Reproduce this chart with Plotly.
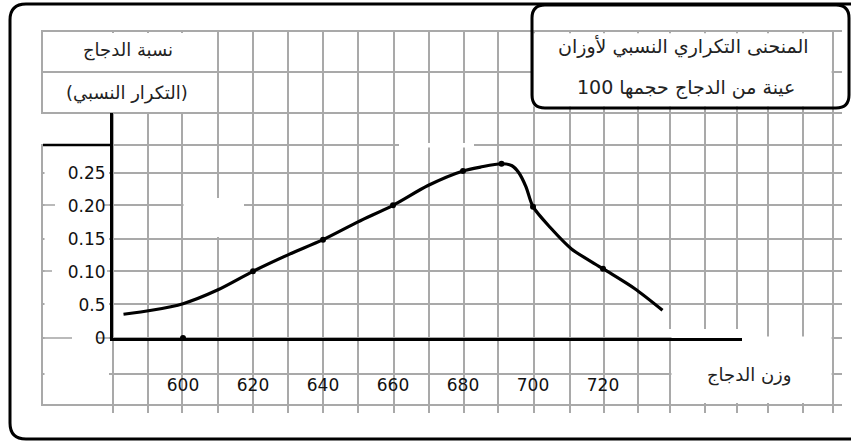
import plotly.graph_objects as go

# ---------------- data ----------------
CURVE_X = [583, 591, 600, 610, 620, 630, 640, 650, 660, 670, 680, 685, 691, 694,
           696, 698, 700, 705, 711, 720, 729, 737]
CURVE_Y = [0.036, 0.042, 0.052, 0.073, 0.101, 0.126, 0.149, 0.176, 0.201, 0.231,
           0.253, 0.259, 0.264, 0.261, 0.250, 0.229, 0.199, 0.167, 0.135, 0.105,
           0.075, 0.042]
DOT_X = [600, 620, 640, 660, 680, 691, 700, 720]
DOT_Y = [0.0, 0.101, 0.149, 0.201, 0.253, 0.264, 0.199, 0.105]

X_TICKS = [600, 620, 640, 660, 680, 700, 720]
X_TICK_TEXT = ["600", "620", "640", "660", "680", "700", "720"]
Y_TICKS = [0, 0.05, 0.10, 0.15, 0.20, 0.25]
Y_TICK_TEXT = ["0", "0.5", "0.10", "0.15", "0.20", "0.25"]

Y_TITLE_1 = "نسبة الدجاج"
Y_TITLE_2 = "(التكرار النسبي)"
X_TITLE = "وزن الدجاج"
TITLE_1 = "المنحنى التكراري النسبي لأوزان"
TITLE_2 = "عينة من الدجاج حجمها 100"

# ---------------- layout geometry (pixels) ----------------
W, H = 851, 442
GL, GR, GT, GB = 43, 842, 32, 404          # grid box
X_ORIGIN_PX, Y_ORIGIN_PX = 113, 338        # axes origin
X_AXIS_END_PX, Y_AXIS_TOP_PX = 742, 113
PX_PER_X = 3.5                             # pixels per weight unit
PX_PER_Y = 660.0                           # pixels per frequency unit
X0 = 580                                   # weight at the origin

GRID_COLS_PX = [113, 148, 182, 218, 253, 288, 323, 358, 394, 429, 464, 498, 534,
                570, 604, 638, 670, 705, 737, 768, 803, 833]
GRID_ROWS_PX = [72, 113, 145, 173, 205, 239, 271, 304, 338, 374]

GRID_COLOR = "#a9a9a9"
FONT = "DejaVu Sans"


def dx(px):
    return X0 + (px - X_ORIGIN_PX) / PX_PER_X


def dy(py):
    return (Y_ORIGIN_PX - py) / PX_PER_Y


def fx(px):
    return (px - GL) / (GR - GL)


def fy(py):
    return (GB - py) / (GB - GT)


def rrect(l, t, r, b, rad):
    X, Y = fx, fy
    return (f"M {X(l+rad)},{Y(t)} L {X(r-rad)},{Y(t)} Q {X(r)},{Y(t)} {X(r)},{Y(t+rad)} "
            f"L {X(r)},{Y(b-rad)} Q {X(r)},{Y(b)} {X(r-rad)},{Y(b)} "
            f"L {X(l+rad)},{Y(b)} Q {X(l)},{Y(b)} {X(l)},{Y(b-rad)} "
            f"L {X(l)},{Y(t+rad)} Q {X(l)},{Y(t)} {X(l+rad)},{Y(t)} Z")


def left_arc(l, t, b, rad):
    # left side of the outer frame with its two rounded corners
    X, Y = fx, fy
    return (f"M {X(l+rad)},{Y(t)} Q {X(l)},{Y(t)} {X(l)},{Y(t+rad)} "
            f"L {X(l)},{Y(b-rad)} Q {X(l)},{Y(b)} {X(l+rad)},{Y(b)}")


fig = go.Figure()

fig.add_trace(go.Scatter(
    x=CURVE_X, y=CURVE_Y, xaxis="x2", yaxis="y2", mode="lines",
    line=dict(color="black", width=3.2, shape="spline", smoothing=0.8),
    hoverinfo="skip", showlegend=False))
fig.add_trace(go.Scatter(
    x=DOT_X, y=DOT_Y, xaxis="x2", yaxis="y2", mode="markers",
    marker=dict(color="black", size=6), cliponaxis=False,
    hoverinfo="skip", showlegend=False))

x2_dom = [fx(X_ORIGIN_PX), fx(X_AXIS_END_PX)]
y2_dom = [fy(Y_ORIGIN_PX), fy(Y_AXIS_TOP_PX)]

fig.update_layout(
    width=W, height=H,
    margin=dict(l=GL, r=W - GR, t=GT, b=H - GB),
    paper_bgcolor="white", plot_bgcolor="rgba(0,0,0,0)",
    showlegend=False,
    xaxis=dict(range=[dx(GL), dx(GR)], domain=[0, 1],
               tickvals=[dx(p) for p in GRID_COLS_PX], showticklabels=False,
               showgrid=True, gridcolor=GRID_COLOR, gridwidth=1.6,
               ticks="outside", ticklen=7, tickcolor=GRID_COLOR, tickwidth=1.6,
               showline=True, linecolor=GRID_COLOR, linewidth=1.6, mirror=True,
               zeroline=False, fixedrange=True),
    yaxis=dict(range=[dy(GB), dy(GT)], domain=[0, 1],
               tickvals=[dy(p) for p in GRID_ROWS_PX], showticklabels=False,
               showgrid=True, gridcolor=GRID_COLOR, gridwidth=1.6, ticks="",
               showline=True, linecolor=GRID_COLOR, linewidth=1.6, mirror=False,
               zeroline=False, fixedrange=True),
    xaxis2=dict(range=[X0, dx(X_AXIS_END_PX)], domain=x2_dom, anchor="y2",
                tickvals=X_TICKS, ticktext=X_TICK_TEXT, ticks="",
                ticklabelstandoff=30,
                tickfont=dict(family=FONT, size=17, color="#111"),
                showgrid=False, zeroline=False, showline=True,
                linecolor="black", linewidth=3, fixedrange=True),
    yaxis2=dict(range=[0, dy(Y_AXIS_TOP_PX)], domain=y2_dom, anchor="x2",
                tickvals=Y_TICKS, ticktext=Y_TICK_TEXT, ticks="",
                ticklabelstandoff=1,
                tickfont=dict(family=FONT, size=17, color="#111"),
                showgrid=False, zeroline=False, showline=True,
                linecolor="black", linewidth=3, fixedrange=True),
)

shapes = []


def mask(l, t, r, b, layer="between"):
    # white patches hiding parts of the background grid
    if layer == "between":
        shapes.append(dict(type="rect", xref="x", yref="y", layer="between",
                           x0=dx(l), x1=dx(r), y0=dy(b), y1=dy(t),
                           fillcolor="white", line=dict(width=0)))
    else:
        shapes.append(dict(type="rect", xref="paper", yref="paper", layer="above",
                           x0=fx(l), x1=fx(r), y0=fy(b), y1=fy(t),
                           fillcolor="white", line=dict(width=0)))


def stub(l, r, py):
    # short pieces of grid line left visible inside the tick-label box
    shapes.append(dict(type="line", xref="x", yref="y", layer="between",
                       x0=dx(l), x1=dx(r), y0=dy(py), y1=dy(py),
                       line=dict(color=GRID_COLOR, width=1.6)))


def hline(l, r, py, width=3, color="black"):
    shapes.append(dict(type="line", xref="paper", yref="paper", layer="above",
                       x0=fx(l), x1=fx(r), y0=fy(py), y1=fy(py),
                       line=dict(color=color, width=width)))


mask(44.5, 33, 216.9, 71)          # top-left title cell, first row
mask(44.5, 73, 216.9, 112)         # top-left title cell, second row
mask(44.5, 146.5, 109, 403)        # tick-label box left of the y axis
mask(671.5, 336.5, 831.6, 403)     # x title cell
mask(668.5, 329, 745, 337)
mask(533.5, 33.2, 831.6, 106.5)    # inside the title box
mask(183.5, 198, 244, 237)         # erased patch in the grid
mask(399, 143, 474, 147.5)
mask(38, 114, 109, 144, layer="above")

stub(44, 55, 205)
stub(104, 110, 205)
stub(44, 52, 271)
stub(107, 110, 271)
stub(44, 72, 338)
stub(97, 110, 338)

# thick black line on top of the tick-label box
hline(GL, X_ORIGIN_PX, 145, width=2.5)
# outer frame: left side with rounded corners, top and bottom running off the edge
FRAME_L, FRAME_T, FRAME_B, FRAME_R = 10, 4, 439, 16
shapes.append(dict(type="path", xref="paper", yref="paper", layer="above",
                   path=left_arc(FRAME_L, FRAME_T, FRAME_B, FRAME_R),
                   line=dict(color="black", width=3)))
hline(FRAME_L + FRAME_R, W, FRAME_T)
hline(FRAME_L + FRAME_R, W, FRAME_B)
# title box
shapes.append(dict(type="path", xref="paper", yref="paper", layer="above",
                   path=rrect(532, 5, 849, 108, 13),
                   line=dict(color="black", width=3)))
fig.update_layout(shapes=shapes)


def note(text, px, py, size=18):
    fig.add_annotation(text=text, x=fx(px), y=fy(py), xref="paper", yref="paper",
                       showarrow=False, xanchor="center", yanchor="middle",
                       font=dict(family=FONT, size=size, color="#222"))


note(Y_TITLE_1, 128, 50)
note(Y_TITLE_2, 127, 93)
note(TITLE_1, 683, 47, 19)
note(TITLE_2, 686, 87, 19)
note(X_TITLE, 749, 375)

fig.write_html("out.html", config={"displayModeBar": False},
               post_script="document.body.style.margin='0';")
